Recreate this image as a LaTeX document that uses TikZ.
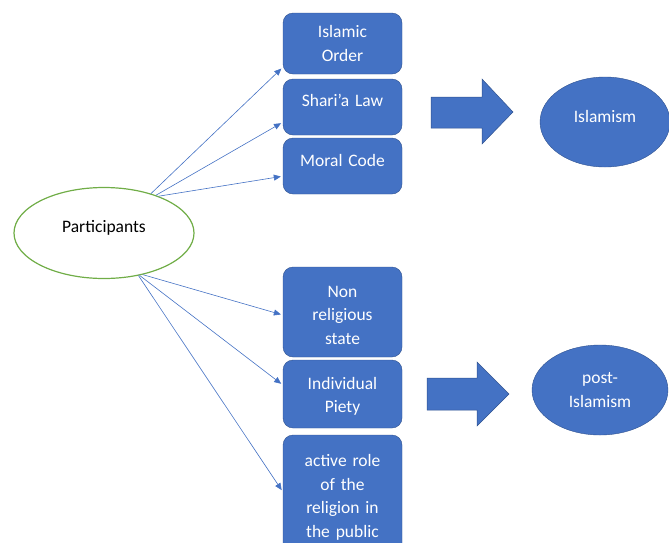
\documentclass[tikz,border=0pt]{standalone}
\usepackage{fontspec}
\setmainfont{Carlito}
\usetikzlibrary{arrows.meta,shapes.geometric}
\definecolor{offblue}{HTML}{4472C4}
\definecolor{offedge}{HTML}{2F528F}
\definecolor{offgreen}{HTML}{70AD47}
\tikzset{
  box/.style={draw=offedge, fill=offblue, rounded corners=10pt, text=white,
    minimum width=119pt, text width=105pt, align=center, inner sep=0pt,
    font=\fontsize{17.5}{23.5}\selectfont},
  blob/.style={ellipse, draw=offedge, fill=offblue, text=white, align=center,
    inner sep=0pt, font=\fontsize{17.5}{23.5}\selectfont},
  conn/.style={draw=offblue, line width=.6pt, shorten >=2pt,
    -{Triangle[length=7pt,width=6pt]}},
  fatarrow/.style={fill=offblue, draw=offedge, line width=.5pt}
}
\begin{document}
\begin{tikzpicture}[x=1pt, y=-1pt]
      \clip (0,0) rectangle (669,542);
      \node[ellipse, draw=offgreen, line width=1.2pt, minimum width=180pt,
        minimum height=91pt, text depth=14pt, font=\fontsize{17.5}{23.5}\selectfont]
        (part) at (104,233) {Participants};

      %% top group
      \node[box, minimum height=61pt] (isorder) at (342.5,43.5) {Islamic\\Order};
      \node[box, minimum height=56pt, text depth=14pt] (sharia) at (342.5,107) {Shari’a Law};
      \node[box, minimum height=56pt, text depth=12pt] (moral) at (342.5,166) {Moral Code};

      %% bottom group
      \node[box, minimum height=90pt, text height=18pt] (nonrel) at (342.5,312) {Non\\religious\\state};
      \node[box, minimum height=68pt, text height=17pt] (piety) at (342.5,394) {Individual\\Piety};
      \node[box, minimum height=120pt, text height=17pt] (active) at (342.5,495) {active role\\of the\\religion in\\the public};

      %% results
      \node[blob, minimum width=130pt, minimum height=90pt, text depth=12pt] (islamism) at (605,122) {Islamism};
      \node[blob, minimum width=136pt, minimum height=90pt] (postis) at (600,390) {post-\\Islamism};

      %% block arrows
      \filldraw[fatarrow] (431,97) -- (482,97) -- (482,79) -- (513,112)
        -- (482,144) -- (482,128) -- (431,128) -- cycle;
      \filldraw[fatarrow] (427,378) -- (477,378) -- (477,362) -- (509,394)
        -- (477,426) -- (477,410) -- (427,410) -- cycle;

      %% connectors
      \draw[conn] (part.40) -- ([yshift=7pt]isorder.south west);
      \draw[conn] (part.36) -- ([yshift=13pt]sharia.south west);
      \draw[conn] (part.34) -- ([yshift=18pt]moral.south west);
      \draw[conn] (part.-47) -- ([yshift=-3pt]nonrel.west);
      \draw[conn] (part.-50) -- ([yshift=9pt]piety.west);
      \draw[conn] (part.-51) -- ([yshift=-57pt]active.north west);
\end{tikzpicture}
\end{document}
